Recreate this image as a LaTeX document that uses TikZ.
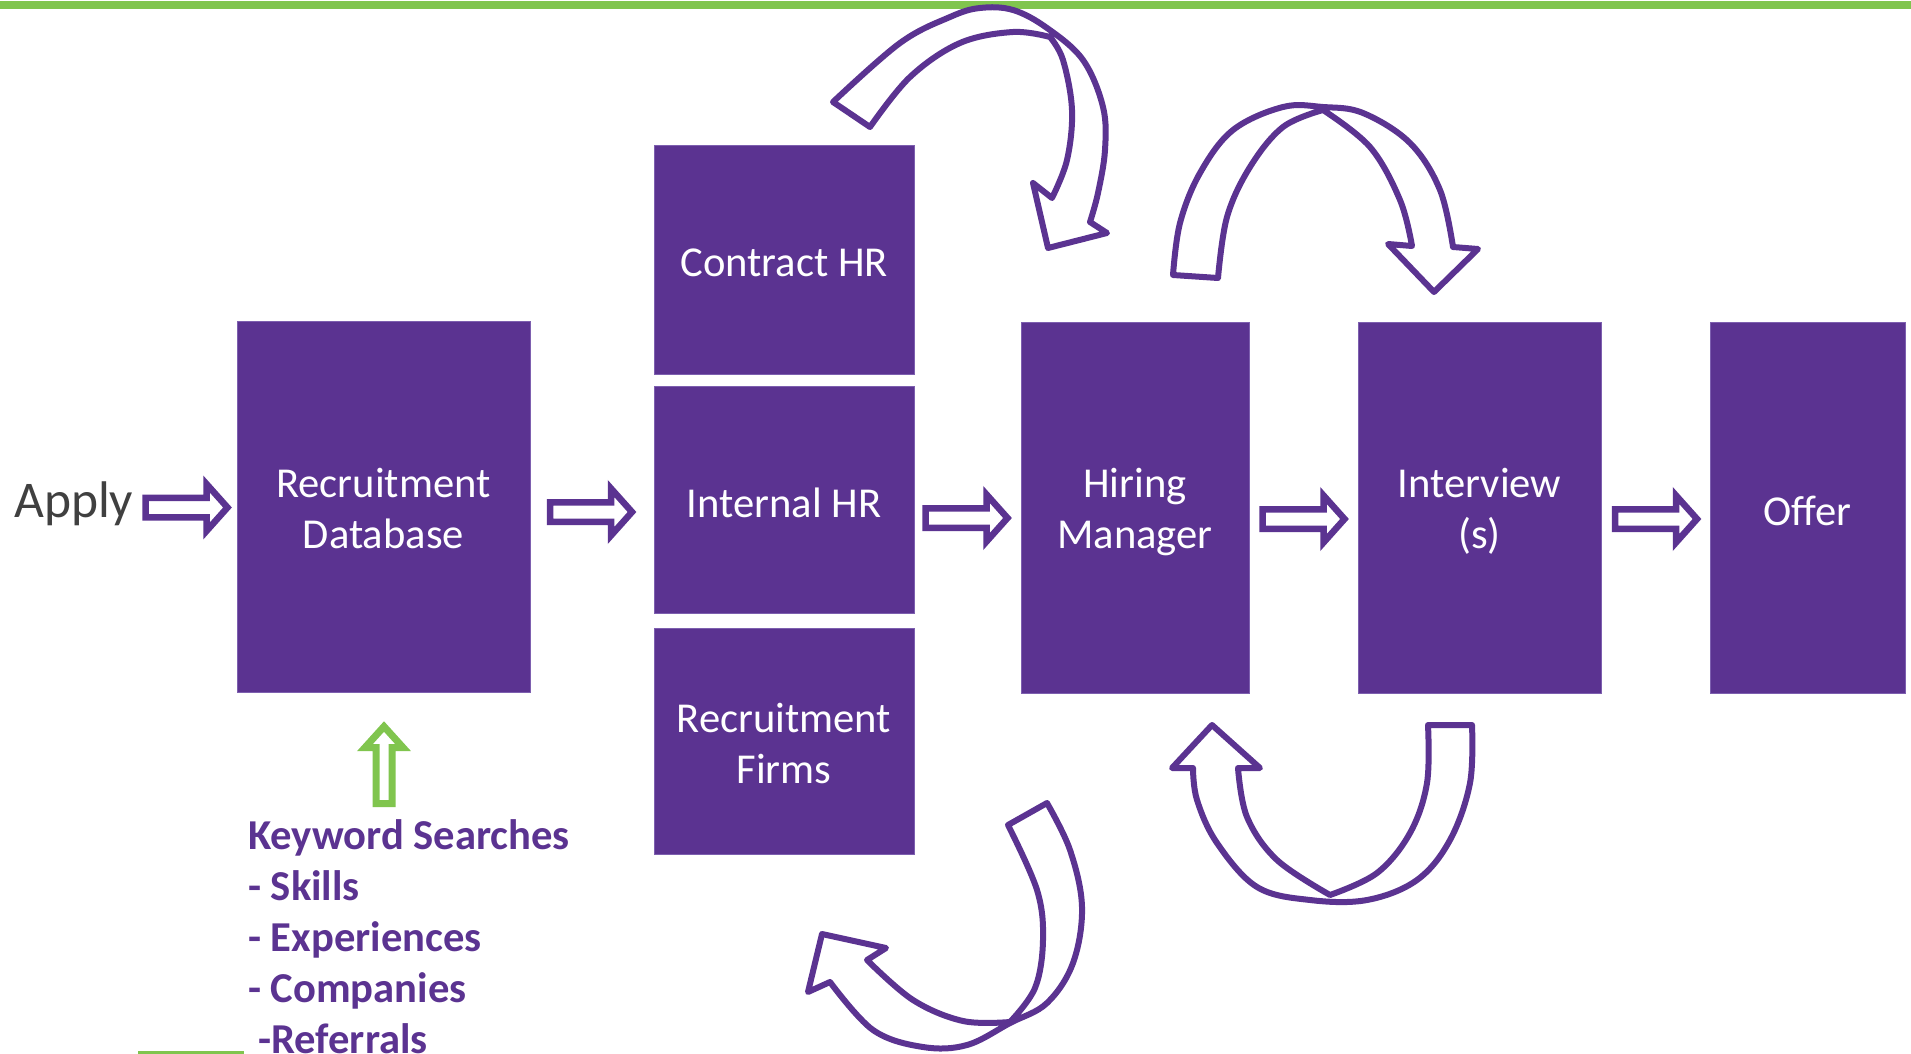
\documentclass[tikz,border=0pt]{standalone}
\usepackage{fontspec}
\setmainfont{Carlito}
\usetikzlibrary{calc}
\definecolor{pp}{RGB}{91,51,145}
\definecolor{ppedge}{RGB}{125,95,175}
\definecolor{gr}{RGB}{128,197,78}
\definecolor{dg}{RGB}{64,64,64}
\begin{document}
\begin{tikzpicture}[x=1pt,y=-1pt,
  box/.style={rectangle, fill=pp, draw=ppedge, line width=1pt, inner sep=0pt},
  boxtext/.style={inner sep=0pt, text=white, align=center, font=\fontsize{42.6}{51}\selectfont},
  kwtext/.style={anchor=base west, inner sep=0pt, text=pp, font=\bfseries\fontsize{42.6}{51}\selectfont},
  barrowstyle/.style={fill=white, draw=pp, line width=6.5pt, line join=miter},
  curvarrow/.style={fill=white, draw=pp, line width=6pt, line join=round},
  greenarrow/.style={fill=white, draw=gr, line width=7pt, line join=miter},
  barrow/.pic={\filldraw[barrowstyle] (-42,-9.75) -- (19,-9.75) -- (19,-23.5) -- (40,0)
      -- (19,23.5) -- (19,9.75) -- (-42,9.75) -- cycle;}
]
\useasboundingbox (0,0) rectangle (1911,1054);
\fill[white] (0,0) rectangle (1911,1054);
% top green bar
\fill[gr] (0,1) rectangle (1911,9);
% bottom-left green line
\fill[gr] (138,1050.5) rectangle (244,1054);

% boxes
\node[box, minimum width=293pt, minimum height=371pt] (db) at (383.5,506.5) {};
\node[box, minimum width=260pt, minimum height=228pt] (ch) at (784,260) {};
\node[box, minimum width=260pt, minimum height=227pt] (ih) at (784,499.5) {};
\node[box, minimum width=260pt, minimum height=226pt] (rf) at (784,741) {};
\node[box, minimum width=228pt, minimum height=371pt] (hm) at (1135,507.5) {};
\node[box, minimum width=243pt, minimum height=371pt] (iv) at (1479.5,507.5) {};
\node[box, minimum width=195pt, minimum height=371pt] (of) at (1807.5,507.5) {};

% box texts
\node[boxtext] (dbt) at ($(db.center)+(0,2)$) {Recruitment\\Database};
\node[boxtext] (cht) at ($(ch.center)+(0,3)$) {Contract HR};
\node[boxtext] (iht) at ($(ih.center)+(0,3)$) {Internal HR};
\node[boxtext] (rft) at ($(rf.center)+(0,2)$) {Recruitment\\Firms};
\node[boxtext] (hmt) at ($(hm.center)+(0,5)$) {Hiring\\Manager};
\node[boxtext] (ivt) at ($(iv.center)+(0,4)$) {Interview\\(s)};
\node[boxtext] (oft) at ($(of.center)+(0,3)$) {Offer};

% Apply text
\node[anchor=base west, inner sep=0pt, text=dg, font=\fontsize{51.5}{60}\selectfont] (apply) at (14,517) {Apply};

% straight block arrows
\pic at ($(db.west)+(-49,1)$) {barrow};
\pic at ($(db.east)!0.5!(ih.west)+(0,9)$) {barrow};
\pic at ($(ih.east)!0.5!(hm.west)+(0,14.5)$) {barrow};
\pic at ($(hm.east)!0.5!(iv.west)+(1,11.5)$) {barrow};
\pic at ($(iv.east)!0.5!(of.west)+(1.5,11.5)$) {barrow};

% green up arrow
\filldraw[greenarrow, shift={($(db.south)+(0.5,0)$)}] (-8,111) -- (-8,55) -- (-19,55) -- (0,34)
  -- (19,55) -- (8,55) -- (8,111) -- cycle;

% keyword text
\node[kwtext] (kw) at (248,849) {Keyword Searches};
\node[kwtext] (sk) at (248,900) {- Skills};
\node[kwtext] (ex) at (248,951) {- Experiences};
\node[kwtext] (co) at (248,1002) {- Companies};
\node[kwtext] (re) at (258,1053) {-Referrals};

% curved arrow A1 (top)
\filldraw[curvarrow]
  plot[smooth, tension=0.6] coordinates {(833,102) (900,43) (950,17) (980,8) (1013,10) (1047,28) (1083,60) (1103,107) (1105,150) (1098,193) (1090,222)}
  -- (1107,233) -- (1048,248) -- (1033,183) -- (1052,198)
  -- plot[smooth, tension=0.6] coordinates {(1052,198) (1067,160) (1072,110) (1063,60) (1050,37)}
  -- plot[smooth, tension=0.6] coordinates {(1050,37) (1013,32) (960,43) (910,77) (870,127)}
  -- cycle;

% curved arrow A2 (top right)
\filldraw[curvarrow]
  plot[smooth, tension=0.6] coordinates {(1173,275) (1180,223) (1200,173) (1233,130) (1283,107) (1323,107) (1363,113) (1410,143) (1440,190) (1453,247)}
  -- (1478,249) -- (1434,292) -- (1388,244) -- (1412,246)
  -- plot[smooth, tension=0.6] coordinates {(1412,246) (1400,200) (1370,147) (1323,110)}
  -- plot[smooth, tension=0.6] coordinates {(1323,110) (1283,127) (1250,167) (1227,217) (1218,278)}
  -- cycle;

% curved arrow A3 (bottom right)
\filldraw[curvarrow]
  plot[smooth, tension=0.6] coordinates {(1472,725) (1470,783) (1450,840) (1417,880) (1367,900) (1310,900) (1257,887) (1217,843) (1197,800) (1193,768)}
  -- (1172,768) -- (1212,725) -- (1260,768) -- (1238,768)
  -- plot[smooth, tension=0.6] coordinates {(1238,768) (1247,817) (1277,860) (1330,895)}
  -- plot[smooth, tension=0.6] coordinates {(1330,895) (1377,873) (1410,833) (1427,783) (1428,725)}
  -- cycle;

% curved arrow A4 (bottom)
\filldraw[curvarrow]
  plot[smooth, tension=0.6] coordinates {(1047,803) (1070,850) (1082,907) (1073,963) (1047,1003) (1010,1023) (967,1045) (923,1047) (873,1030) (830,982)}
  -- (808,992) -- (822,934) -- (886,948) -- (867,960)
  -- plot[smooth, tension=0.6] coordinates {(867,960) (913,1000) (963,1021) (1010,1022)}
  -- plot[smooth, tension=0.6] coordinates {(1010,1022) (1035,988) (1043,940) (1037,890) (1008,825)}
  -- cycle;
\end{tikzpicture}
\end{document}
